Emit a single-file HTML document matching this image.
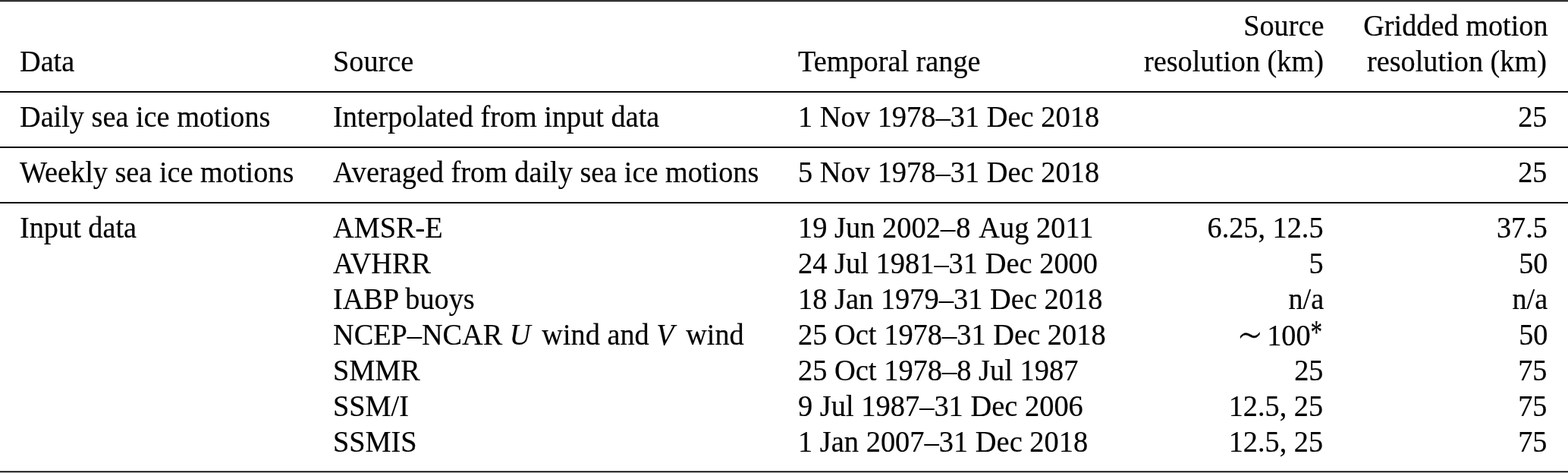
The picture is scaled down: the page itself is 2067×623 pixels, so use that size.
<!DOCTYPE html>
<html><head><meta charset="utf-8">
<style>
html,body{margin:0;padding:0;background:#fff;}
body{width:2067px;height:623px;position:relative;overflow:hidden;font-family:"Liberation Serif",serif;font-size:39.4px;color:#000;-webkit-text-stroke:0.2px #000;}
.t{position:absolute;white-space:pre;transform:scaleX(0.97132);transform-origin:0 0;line-height:46px;height:46px;}
.r{text-align:right;transform-origin:100% 0;}
.hl{position:absolute;left:0;width:2067px;height:1px;}
i{font-style:italic;}
.d{transform:scaleX(0.97589);}
.sim{display:inline-block;font-family:"DejaVu Sans",sans-serif;font-weight:200;width:30px;text-align:center;transform:translate(-0.2px,0.2px) scale(1.4,1.55);-webkit-text-stroke:0.25px #000;margin-right:8px;}
.ast{display:inline-block;width:16px;text-align:center;transform:translate(-3.5px,-3.8px) scale(0.815,1.10);}
.h{margin-right:2px;}
</style></head><body>
<div class="hl" style="top:0px;background:#4a4a4a"></div><div class="hl" style="top:1px;background:#0e0e0e"></div><div class="hl" style="top:2px;background:#d8d8d8"></div><div class="hl" style="top:120px;background:#060606"></div><div class="hl" style="top:121px;background:#060606"></div><div class="hl" style="top:193px;background:#060606"></div><div class="hl" style="top:194px;background:#060606"></div><div class="hl" style="top:266px;background:#040404"></div><div class="hl" style="top:267px;background:#040404"></div><div class="hl" style="top:620px;background:#707070"></div><div class="hl" style="top:621px;background:#000"></div><div class="hl" style="top:622px;background:#c4c4c4"></div>
<div class="t" style="left:26.30px;top:58.00px">Data</div>
<div class="t" style="left:439.20px;top:58.00px">Source</div>
<div class="t" style="left:1052.40px;top:58.00px">Temporal range</div>
<div class="t r" style="right:322.00px;top:11.00px">Source</div>
<div class="t r" style="right:322.00px;top:58.00px">resolution (km)</div>
<div class="t r" style="right:26.50px;top:11.00px">Gridded motion</div>
<div class="t r" style="right:27.80px;top:58.00px">resolution (km)</div>
<div class="t" style="left:26.30px;top:131.00px">Daily sea ice motions</div>
<div class="t" style="left:439.20px;top:131.00px">Interpolated from input data</div>
<div class="t d" style="left:1052.40px;top:131.00px">1 Nov 1978–31 Dec 2018</div>
<div class="t r" style="right:27.30px;top:131.00px">25</div>
<div class="t" style="left:26.30px;top:204.00px">Weekly sea ice motions</div>
<div class="t" style="left:439.20px;top:204.00px">Averaged from daily sea ice motions</div>
<div class="t d" style="left:1052.40px;top:204.00px">5 Nov 1978–31 Dec 2018</div>
<div class="t r" style="right:27.30px;top:204.00px">25</div>
<div class="t" style="left:26.30px;top:277.00px">Input data</div>
<div class="t" style="left:439.20px;top:277.00px">AMSR-E</div>
<div class="t d" style="left:1052.40px;top:277.00px">19 Jun 2002–<span style="margin-left:1px">8</span> <span style="margin-left:1.2px">Aug 2011</span></div>
<div class="t r" style="right:322.80px;top:277.00px">6.25, 12.5</div>
<div class="t r" style="right:27.30px;top:277.00px">37.5</div>
<div class="t" style="left:439.20px;top:324.00px">AVHRR</div>
<div class="t d" style="left:1052.40px;top:324.00px">24 Jul 1981–31 Dec 2000</div>
<div class="t r" style="right:322.80px;top:324.00px">5</div>
<div class="t r" style="right:26.50px;top:324.00px">50</div>
<div class="t" style="left:439.20px;top:371.00px">IABP buoys</div>
<div class="t d" style="left:1052.40px;top:371.00px">18 Jan 1979–31 Dec 2018</div>
<div class="t r" style="right:322.00px;top:371.00px">n/a</div>
<div class="t r" style="right:26.50px;top:371.00px">n/a</div>
<div class="t" style="left:439.20px;top:418.00px">NCEP–NCAR <i style="margin-right:5.5px">U</i> wind and <i style="margin-right:6.2px">V</i> wind</div>
<div class="t d" style="left:1052.40px;top:418.00px">25 Oct 1978–31 Dec 2018</div>
<div class="t r" style="right:26.50px;top:418.00px">50</div>
<div class="t r" style="right:322.00px;top:418.00px"><span class="sim">∼</span><span class="h">100</span><span class="ast">*</span></div>
<div class="t" style="left:439.20px;top:465.00px">SMMR</div>
<div class="t d" style="left:1052.40px;top:465.00px">25 Oct 1978–8 Jul 1987</div>
<div class="t r" style="right:322.80px;top:465.00px">25</div>
<div class="t r" style="right:27.30px;top:465.00px">75</div>
<div class="t" style="left:439.20px;top:512.00px">SSM/I</div>
<div class="t d" style="left:1052.40px;top:512.00px">9 Jul 1987–31 Dec 2006</div>
<div class="t r" style="right:322.80px;top:512.00px">12.5, 25</div>
<div class="t r" style="right:27.30px;top:512.00px">75</div>
<div class="t" style="left:439.20px;top:559.00px">SSMIS</div>
<div class="t d" style="left:1052.40px;top:559.00px">1 Jan 2007–31 Dec 2018</div>
<div class="t r" style="right:322.80px;top:559.00px">12.5, 25</div>
<div class="t r" style="right:27.30px;top:559.00px">75</div>
</body></html>
